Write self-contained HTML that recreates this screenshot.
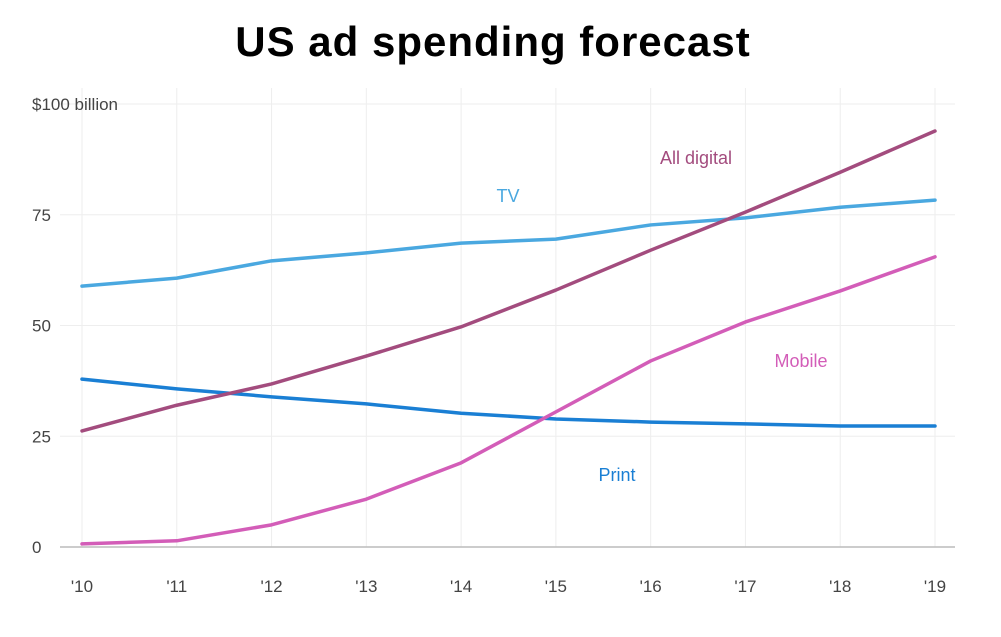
<!DOCTYPE html>
<html><head><meta charset="utf-8"><style>
body{margin:0;background:#fff;width:1001px;height:632px;overflow:hidden;font-family:"Liberation Sans",sans-serif}
</style></head><body>
<svg id="chart" width="1001" height="632">
<text x="493" y="56" text-anchor="middle" font-size="42" font-weight="bold" letter-spacing="1" fill="#000">US ad spending forecast</text>
<g id="grid"></g><g id="lines"></g><g id="labels"></g>
</svg>
<script>
const years=["'10","'11","'12","'13","'14","'15","'16","'17","'18","'19"];
const yTicks=[0,25,50,75,100];
const tv=[58.9,60.7,64.6,66.4,68.6,69.5,72.7,74.3,76.7,78.3];
const digital=[26.2,32,36.8,43.1,49.7,58,67,75.6,84.6,93.9];
const mobile=[0.7,1.4,5,10.8,19,30.5,42,50.8,57.8,65.5];
const print=[37.9,35.7,33.9,32.3,30.2,28.9,28.2,27.8,27.3,27.3];
const NS="http://www.w3.org/2000/svg";
const x=i=>82+i*(935-82)/9;
const y=v=>547-v*(547-104)/100;
function mk(t,a,p){const e=document.createElementNS(NS,t);for(const k in a)e.setAttribute(k,a[k]);p.appendChild(e);return e;}
const grid=document.getElementById('grid'),lines=document.getElementById('lines'),labels=document.getElementById('labels');
years.forEach((yr,i)=>{
 const l=mk('line',{x1:x(i),x2:x(i),y1:88,y2:547,stroke:'#eeeeee','stroke-width':1},grid);
 
 
 const t=mk('text',{x:x(i),y:592,'text-anchor':'middle','font-size':17,fill:'#444'},labels);
 t.textContent=yr;
 
 
});
yTicks.forEach(v=>{
 const l=mk('line',{x1:60,x2:955,y1:y(v),y2:y(v),stroke:v===0?'#bbbbbb':'#eeeeee','stroke-width':v===0?1.5:1},grid);
 
 
 const t=mk('text',{x:32,y:y(v)+6,'font-size':17,fill:'#444'},labels);
 t.textContent=v===100?'$100 billion':String(v);
 
 
});
const series=[[tv,'#4aa8e0','tv-line'],[print,'#1a7fd4','print-line'],[mobile,'#d35db8','mobile-line'],[digital,'#a34c7e','all-digital-line']];
series.forEach(([d,c,n])=>{
 const p=mk('polyline',{points:d.map((v,i)=>x(i)+','+y(v)).join(' '),fill:'none',stroke:c,'stroke-width':3.5,'stroke-linejoin':'round','stroke-linecap':'round'},lines);
 
 
});
const lab=[['TV',508,202,'#4aa8e0','tv-label'],['All digital',696,164,'#a34c7e','all-digital-label'],['Mobile',801,367,'#d35db8','mobile-label'],['Print',617,481,'#1a7fd4','print-label']];
lab.forEach(([s,lx,ly,c,n])=>{
 const t=mk('text',{x:lx,y:ly,'text-anchor':'middle','font-size':18,fill:c},labels);
 t.textContent=s;
 
 
});
</script>
</body></html>
